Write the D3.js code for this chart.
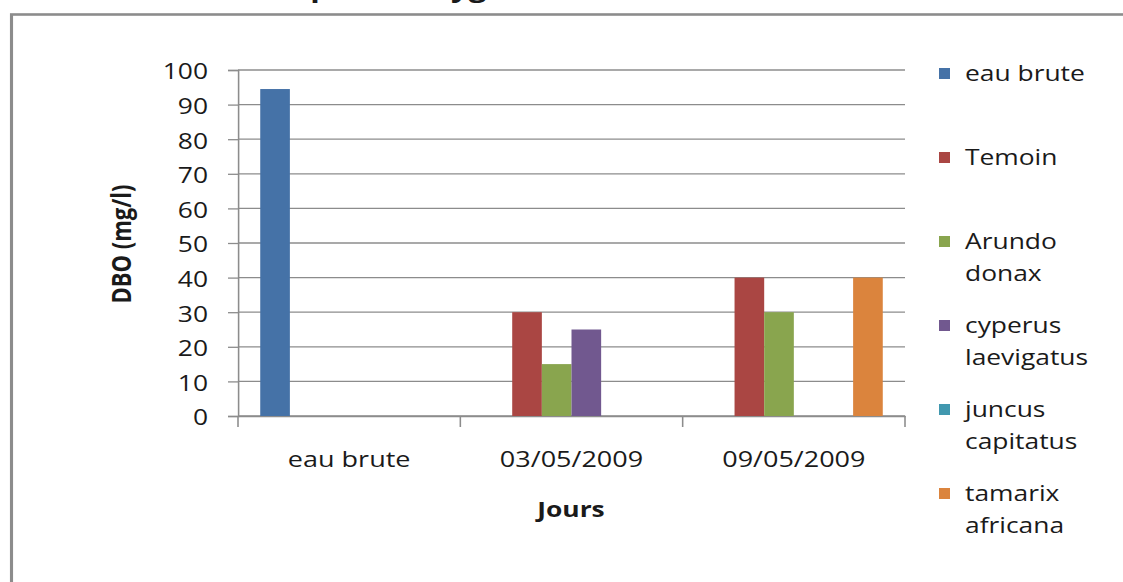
<!DOCTYPE html>
<html>
<head>
<meta charset="utf-8">
<script src="https://cdn.jsdelivr.net/npm/d3@7"></script>
<style>
  html, body { margin: 0; padding: 0; background: #fff; overflow: hidden; }
  text { font-family: "Open Sans", sans-serif; fill: #1a1a1a; }
</style>
</head>
<body>
<svg id="chart"></svg>
<script>
// Data
const categories = ["eau brute", "03/05/2009", "09/05/2009"]
const seriesNames = ["eau brute", "Temoin", "Arundo donax", "cyperus laevigatus", "juncus capitatus", "tamarix africana"]
const legendLines = [["eau brute"], ["Temoin"], ["Arundo", "donax"], ["cyperus", "laevigatus"], ["juncus", "capitatus"], ["tamarix", "africana"]]
const eauBrute = [94.5, null, null]
const temoin = [null, 30, 40]
const arundo = [null, 15, 30]
const cyperus = [null, 25, null]
const juncus = [null, null, null]
const tamarix = [null, null, 40]
const yTicks = [0, 10, 20, 30, 40, 50, 60, 70, 80, 90, 100]
const colors = ["#4572a7", "#aa4643", "#89a54e", "#71588f", "#4198af", "#db843d"]

const seriesValues = [eauBrute, temoin, arundo, cyperus, juncus, tamarix]

// The original picture is stretched sideways, so draw in a narrower box and stretch it
const SX = 1.2
const W = 1123, H = 582
const sx = v => v / SX

var svg = d3.select("#chart")
    .attr("width", W)
    .attr("height", H)
    .attr("viewBox", [0, 0, W / SX, H])
    .attr("preserveAspectRatio", "none")

// frame (cut off on the right and at the bottom)
svg.append("rect")
    .attr("x", sx(11.5)).attr("y", 14.5)
    .attr("width", sx(1300)).attr("height", 700)
    .attr("fill", "none")
    .attr("stroke", "#8c8c8c")
    .attr("stroke-width", 2.6)

// title, almost entirely above the picture as in the original
var title = svg.append("text")
    .attr("y", -3)
    .style("font-size", "26px")
    .style("font-weight", "bold")
    .text("Demande biochimique en oxygène")
try {
    var qi = title.text().indexOf("q")
    var qx = title.node().getStartPositionOfChar(qi).x
    title.attr("x", sx(300) - qx)
} catch (e) {
    title.attr("x", sx(90))
}

// Scales
var x0 = d3.scaleBand()
    .domain(categories)
    .range([sx(238), sx(905)])

var x1 = d3.scaleBand()
    .domain(seriesNames)
    .range([0, x0.bandwidth()])
    .paddingInner(0)
    .paddingOuter(0.75)

var y = d3.scaleLinear()
    .domain([0, 100])
    .range([416, 70])

// gridlines
svg.append("g").attr("class", "grid")
    .selectAll("line")
    .data(yTicks)
    .join("line")
    .attr("x1", sx(238)).attr("x2", sx(905))
    .attr("y1", d => y(d)).attr("y2", d => y(d))
    .attr("stroke", "#8c8c8c")
    .attr("stroke-width", 1.3)

// y axis
var yAxis = svg.append("g")
    .attr("transform", `translate(${sx(238)},0)`)
    .call(d3.axisLeft(y).tickValues(yTicks).tickSize(sx(10)).tickPadding(sx(20)))
yAxis.select(".domain").attr("stroke", "#8c8c8c").attr("stroke-width", 1.3)
yAxis.selectAll(".tick line").attr("stroke", "#8c8c8c").attr("stroke-width", 1.3)
yAxis.selectAll(".tick text")
    .attr("dy", "0.4em")
    .style("font-family", "'Open Sans', sans-serif")
    .style("font-size", "22px")
    .attr("fill", "#1a1a1a")

// x axis (labels at band centres, ticks at band edges)
var xAxis = svg.append("g")
    .attr("transform", "translate(0,416)")
    .call(d3.axisBottom(x0).tickSize(0).tickPadding(51))
xAxis.select(".domain").attr("stroke", "#8c8c8c").attr("stroke-width", 1.3)
xAxis.selectAll(".tick text")
    .attr("dy", "0")
    .style("font-family", "'Open Sans', sans-serif")
    .style("font-size", "22.5px")
    .attr("fill", "#1a1a1a")
var edges = categories.map(c => x0(c)).concat([x0.range()[1]])
xAxis.selectAll(".edge")
    .data(edges)
    .join("line")
    .attr("class", "edge")
    .attr("x1", d => d).attr("x2", d => d)
    .attr("y1", 0).attr("y2", 11)
    .attr("stroke", "#8c8c8c")
    .attr("stroke-width", 1.3)

// bars
var groups = svg.append("g").attr("class", "bars")
    .selectAll("g")
    .data(seriesNames)
    .join("g")
    .attr("fill", (d, i) => colors[i])

groups.selectAll("rect")
    .data((s, i) => categories.map((c, j) => ({ cat: c, name: s, value: seriesValues[i][j] })).filter(d => d.value != null))
    .join("rect")
    .attr("x", d => x0(d.cat) + x1(d.name))
    .attr("width", x1.bandwidth())
    .attr("y", d => y(d.value))
    .attr("height", d => y(0) - y(d.value))

// axis titles
svg.append("text")
    .attr("transform", `translate(${sx(131)},244) rotate(-90)`)
    .style("text-anchor", "middle")
    .style("font-size", "22px")
    .style("font-weight", "bold")
    .text("DBO (mg/l)")

svg.append("text")
    .attr("x", sx(571)).attr("y", 517)
    .style("text-anchor", "middle")
    .style("font-size", "22px")
    .style("font-weight", "bold")
    .text("Jours")

// legend
var legend = svg.append("g").attr("class", "legend")
    .selectAll("g")
    .data(legendLines)
    .join("g")
    .attr("transform", (d, i) => `translate(${sx(939)},${73.5 + i * 84})`)

legend.append("rect")
    .attr("x", 0).attr("y", -5.5)
    .attr("width", sx(11)).attr("height", 11)
    .attr("fill", (d, i) => colors[i])

legend.append("text")
    .attr("x", sx(26))
    .attr("y", 7.5)
    .style("font-size", "22px")
    .selectAll("tspan")
    .data(d => d)
    .join("tspan")
    .attr("x", sx(26))
    .attr("dy", (d, i) => i == 0 ? 0 : 32)
    .text(d => d)
</script>
</body>
</html>
